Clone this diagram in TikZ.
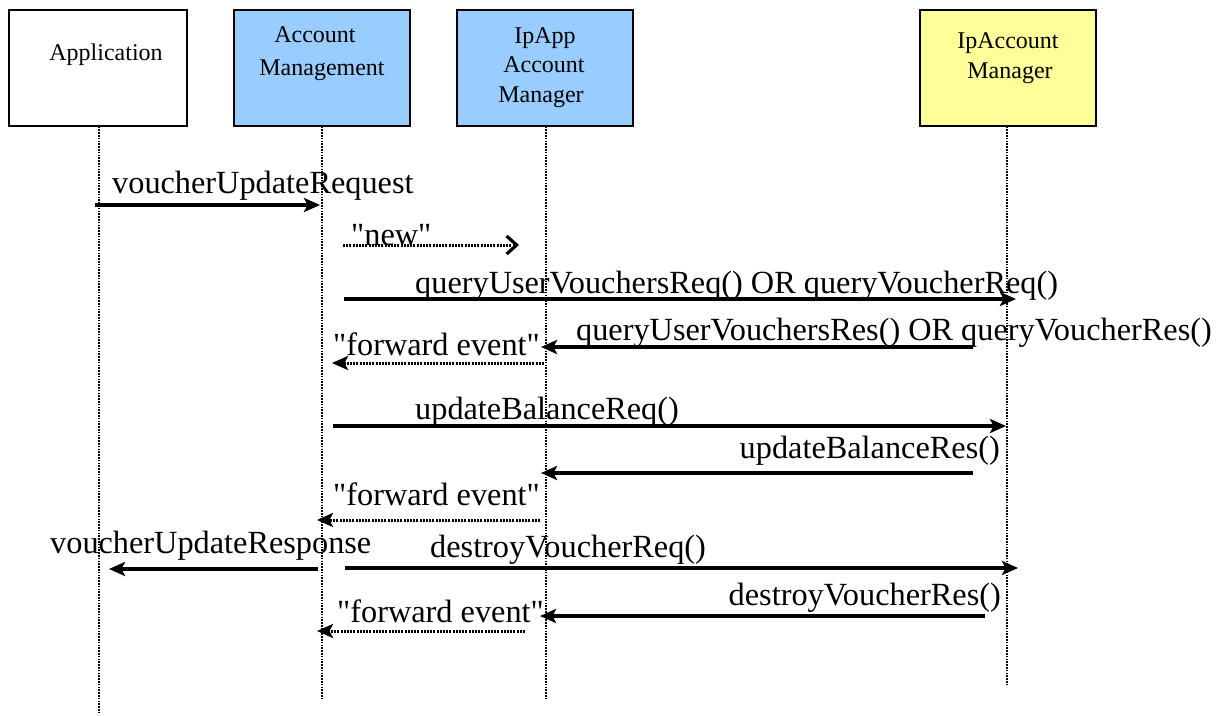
\documentclass[tikz,border=0pt]{standalone}
\usepackage{fontspec}
\setmainfont{Liberation Serif}
\usetikzlibrary{arrows.meta}
\definecolor{objblue}{HTML}{99CCFF}
\definecolor{objyellow}{HTML}{FFFF99}
\newcommand{\qt}[1]{\textquotedbl#1\textquotedbl}
\begin{document}
\begin{tikzpicture}[x=1pt,y=-1pt,
  objbox/.style={draw,line width=1.6pt,minimum height=116pt,inner sep=0pt,anchor=north west},
  objtext/.style={font=\fontsize{24}{29}\selectfont,anchor=base,inner sep=0pt},
  lifeline/.style={line width=2pt,dash pattern=on 1.6pt off 1.2pt},
  tip/.style={-{Stealth[length=16pt,width=14pt,inset=3.5pt]}},
  msg/.style={tip,line width=3.2pt},
  fwd/.style={tip,line width=3pt,dash pattern=on 2pt off 1.2pt},
  msgtext/.style={font=\fontsize{32.3}{37}\selectfont,inner sep=0pt}]
\useasboundingbox (0,0) rectangle (1221,715);

% objects
\node[objbox,fill=white,minimum width=178pt] (app) at (8,9) {};
\node[objbox,fill=objblue,minimum width=176pt] (am) at (233,9) {};
\node[objbox,fill=objblue,minimum width=176pt] (ipapp) at (456,9) {};
\node[objbox,fill=objyellow,minimum width=176pt] (ipacc) at (919,9) {};

\node[objtext] (appL) at (106,60) {Application};
\node[objtext] (amL1) at (315,42) {Account};
\node[objtext] (amL2) at (322,75) {Management};
\node[objtext] (ipappL1) at (545,43) {IpApp};
\node[objtext] (ipappL2) at (544,72) {Account};
\node[objtext] (ipappL3) at (541,102) {Manager};
\node[objtext] (ipaccL1) at (1008,48) {IpAccount};
\node[objtext] (ipaccL2) at (1010,78) {Manager};

% lifelines
\coordinate (appEnd) at (99,714);
\coordinate (amEnd) at (322,700);
\coordinate (ipappEnd) at (546,700);
\coordinate (ipaccEnd) at (1007,684);
\draw[lifeline] (app.south -| appEnd) -- (appEnd);
\draw[lifeline] (am.south -| amEnd) -- (amEnd);
\draw[lifeline] (ipapp.south -| ipappEnd) -- (ipappEnd);
\draw[lifeline] (ipacc.south -| ipaccEnd) -- (ipaccEnd);

% message end points
\coordinate (m1a) at (95,205);   \coordinate (m1b) at (320,205);
\coordinate (m2a) at (343,245);  \coordinate (m2b) at (519,245);
\coordinate (m3a) at (344,299);  \coordinate (m3b) at (1016,299);
\coordinate (m4a) at (973,347);  \coordinate (m4b) at (541,347);
\coordinate (m5a) at (544,363);  \coordinate (m5b) at (332,363);
\coordinate (m6a) at (333,426);  \coordinate (m6b) at (1006,426);
\coordinate (m7a) at (973,473);  \coordinate (m7b) at (541,473);
\coordinate (m8a) at (540,520);  \coordinate (m8b) at (317,520);
\coordinate (m9a) at (318,569);  \coordinate (m9b) at (109,569);
\coordinate (m10a) at (345,568); \coordinate (m10b) at (1018,568);
\coordinate (m11a) at (985,616); \coordinate (m11b) at (540,616);
\coordinate (m12a) at (525,631); \coordinate (m12b) at (317,631);

% messages
\draw[msg] (m1a) -- (m1b);
\draw[line width=3pt,dash pattern=on 2pt off 1.2pt,-{Straight Barb[length=10pt,width=18pt,line width=3.2pt]}] (m2a) -- (m2b);
\draw[msg] (m3a) -- (m3b);
\draw[msg] (m4a) -- (m4b);
\draw[fwd] (m5a) -- (m5b);
\draw[msg] (m6a) -- (m6b);
\draw[msg] (m7a) -- (m7b);
\draw[fwd] (m8a) -- (m8b);
\draw[msg] (m9a) -- (m9b);
\draw[msg] (m10a) -- (m10b);
\draw[msg] (m11a) -- (m11b);
\draw[fwd] (m12a) -- (m12b);

% message labels
\node[msgtext,anchor=base west] (t1) at (112,193) {voucherUpdateRequest};
\node[msgtext,anchor=base west] (t2) at (351,245) {\qt{new}};
\node[msgtext,anchor=base west] (t3) at (415,293) {queryUserVouchersReq() OR queryVoucherReq()};
\node[msgtext,anchor=base east] (t4) at (1212,340) {queryUserVouchersRes() OR queryVoucherRes()};
\node[msgtext,anchor=base west] (t5) at (333,355) {\qt{forward event}};
\node[msgtext,anchor=base west] (t6) at (415,419) {updateBalanceReq()};
\node[msgtext,anchor=base east] (t7) at (1000,458) {updateBalanceRes()};
\node[msgtext,anchor=base west] (t8) at (333,505) {\qt{forward event}};
\node[msgtext,anchor=base west] (t9) at (50,553) {voucherUpdateResponse};
\node[msgtext,anchor=base west] (t10) at (430,557) {destroyVoucherReq()};
\node[msgtext,anchor=base east] (t11) at (1001,605) {destroyVoucherRes()};
\node[msgtext,anchor=base west] (t12) at (337,622) {\qt{forward event}};
\end{tikzpicture}
\end{document}
